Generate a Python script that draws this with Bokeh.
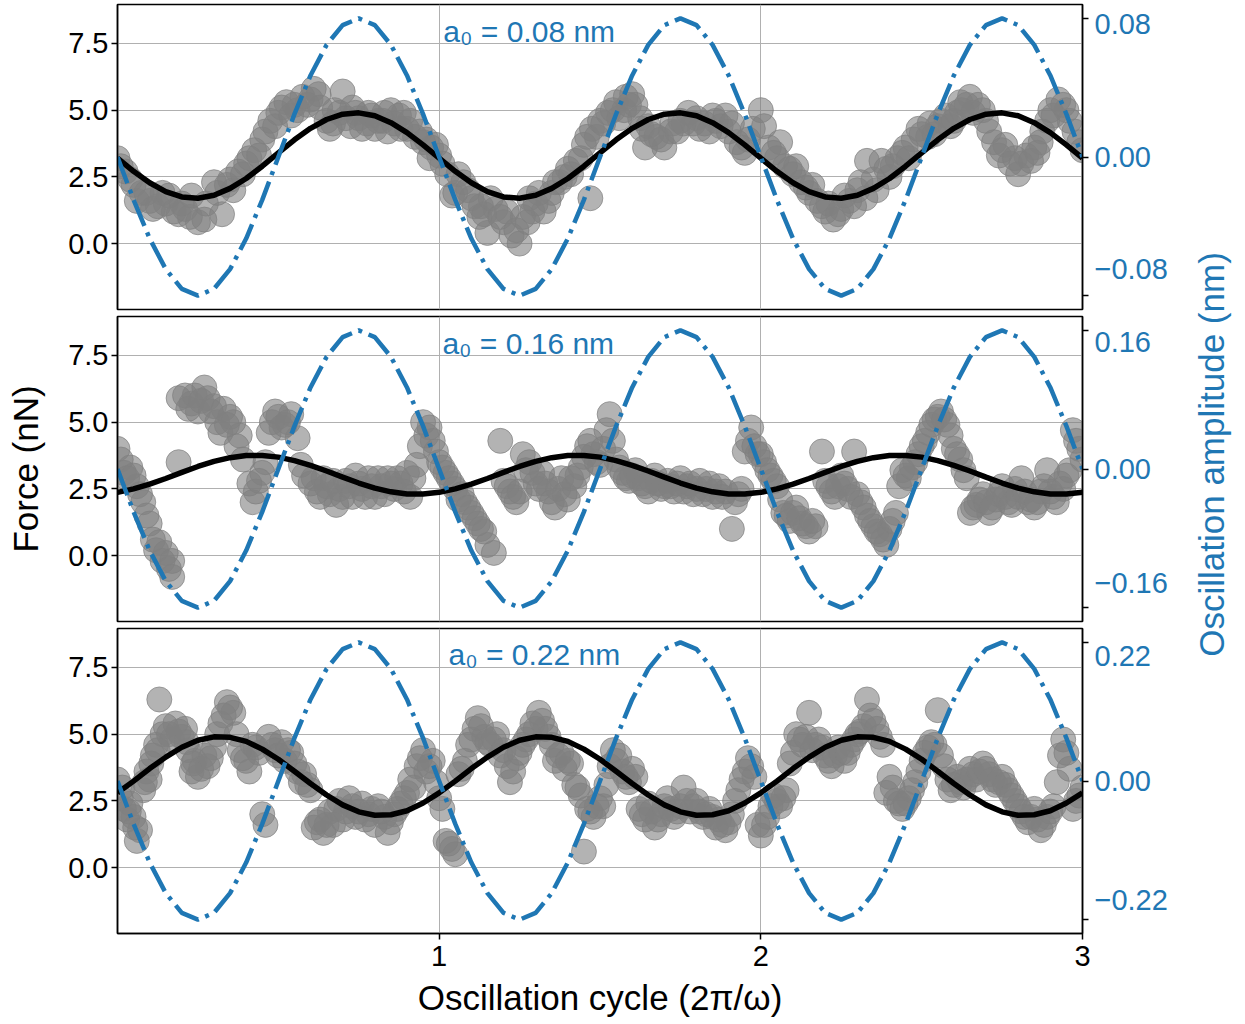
import math
from bokeh.plotting import figure
from bokeh.layouts import column, row
from bokeh.models import Range1d, LinearAxis, FixedTicker, PrintfTickFormatter, Grid
from bokeh.core.properties import value
from bokeh.embed import file_html
from bokeh.resources import INLINE

FONT = "Liberation Sans"
BLUE = "#1f77b4"

# ---------------- data ----------------
cycle = [0.00, 0.05, 0.10, 0.15, 0.20, 0.25, 0.30, 0.35, 0.40, 0.45,
         0.50, 0.55, 0.60, 0.65, 0.70, 0.75, 0.80, 0.85, 0.90, 0.95,
         1.00, 1.05, 1.10, 1.15, 1.20, 1.25, 1.30, 1.35, 1.40, 1.45,
         1.50, 1.55, 1.60, 1.65, 1.70, 1.75, 1.80, 1.85, 1.90, 1.95,
         2.00, 2.05, 2.10, 2.15, 2.20, 2.25, 2.30, 2.35, 2.40, 2.45,
         2.50, 2.55, 2.60, 2.65, 2.70, 2.75, 2.80, 2.85, 2.90, 2.95, 3.00]

# drive waveform, in units of a0
drive_shape = [0.000, -0.309, -0.588, -0.809, -0.951, -1.000, -0.951, -0.809, -0.588, -0.309,
               0.000, 0.309, 0.588, 0.809, 0.951, 1.000, 0.951, 0.809, 0.588, 0.309,
               0.000, -0.309, -0.588, -0.809, -0.951, -1.000, -0.951, -0.809, -0.588, -0.309,
               0.000, 0.309, 0.588, 0.809, 0.951, 1.000, 0.951, 0.809, 0.588, 0.309,
               0.000, -0.309, -0.588, -0.809, -0.951, -1.000, -0.951, -0.809, -0.588, -0.309,
               0.000, 0.309, 0.588, 0.809, 0.951, 1.000, 0.951, 0.809, 0.588, 0.309, 0.000]

a0_values = [0.08, 0.16, 0.22]
a0_texts = ["a\u2080 = 0.08 nm", "a\u2080 = 0.16 nm", "a\u2080 = 0.22 nm"]
amp_tick_texts = [("0.08", "\u22120.08"), ("0.16", "\u22120.16"), ("0.22", "\u22120.22")]

fit_1 = [3.20, 2.71, 2.28, 1.95, 1.75, 1.70, 1.81, 2.07, 2.44, 2.90,
         3.40, 3.89, 4.32, 4.65, 4.85, 4.90, 4.79, 4.53, 4.16, 3.70,
         3.20, 2.71, 2.28, 1.95, 1.75, 1.70, 1.81, 2.07, 2.44, 2.90,
         3.40, 3.89, 4.32, 4.65, 4.85, 4.90, 4.79, 4.53, 4.16, 3.70,
         3.20, 2.71, 2.28, 1.95, 1.75, 1.70, 1.81, 2.07, 2.44, 2.90,
         3.40, 3.89, 4.32, 4.65, 4.85, 4.90, 4.79, 4.53, 4.16, 3.70, 3.20]
fit_2 = [2.37, 2.50, 2.68, 2.89, 3.12, 3.34, 3.53, 3.67, 3.75, 3.75,
         3.69, 3.56, 3.38, 3.17, 2.94, 2.72, 2.53, 2.39, 2.31, 2.31,
         2.37, 2.50, 2.68, 2.89, 3.12, 3.34, 3.53, 3.67, 3.75, 3.75,
         3.69, 3.56, 3.38, 3.17, 2.94, 2.72, 2.53, 2.39, 2.31, 2.31,
         2.37, 2.50, 2.68, 2.89, 3.12, 3.34, 3.53, 3.67, 3.75, 3.75,
         3.69, 3.56, 3.38, 3.17, 2.94, 2.72, 2.53, 2.39, 2.31, 2.31, 2.37]
fit_3 = [2.80, 3.24, 3.71, 4.14, 4.51, 4.77, 4.90, 4.88, 4.73, 4.44,
         4.06, 3.61, 3.15, 2.72, 2.35, 2.09, 1.96, 1.98, 2.13, 2.42,
         2.80, 3.24, 3.71, 4.14, 4.51, 4.77, 4.90, 4.88, 4.73, 4.44,
         4.06, 3.61, 3.15, 2.72, 2.35, 2.09, 1.96, 1.98, 2.13, 2.42,
         2.80, 3.24, 3.71, 4.14, 4.51, 4.77, 4.90, 4.88, 4.73, 4.44,
         4.06, 3.61, 3.15, 2.72, 2.35, 2.09, 1.96, 1.98, 2.13, 2.42, 2.80]

# measured force samples (nN), panel 1
t_1 = [0.000, 0.025, 0.050, 0.060, 0.075, 0.100, 0.125, 0.140, 0.150, 0.175, 0.190, 0.200, 0.225, 0.250,
       0.270, 0.275, 0.300, 0.325, 0.350, 0.360, 0.375, 0.400, 0.425, 0.450, 0.460, 0.475, 0.500, 0.525,
       0.550, 0.560, 0.575, 0.600, 0.610, 0.625, 0.650, 0.660, 0.675, 0.690, 0.700, 0.725, 0.740, 0.750,
       0.775, 0.790, 0.800, 0.825, 0.840, 0.850, 0.875, 0.890, 0.900, 0.925, 0.950, 0.970, 0.975, 1.000,
       1.025, 1.040, 1.050, 1.075, 1.100, 1.125, 1.130, 1.150, 1.175, 1.200, 1.210, 1.225, 1.250, 1.275,
       1.290, 1.300, 1.325, 1.350, 1.375, 1.400, 1.425, 1.440, 1.450, 1.470, 1.475, 1.500, 1.525, 1.550,
       1.575, 1.580, 1.600, 1.625, 1.640, 1.650, 1.675, 1.700, 1.720, 1.725, 1.750, 1.775, 1.800, 1.810,
       1.825, 1.850, 1.875, 1.890, 1.900, 1.925, 1.950, 1.975, 2.000, 2.025, 2.050, 2.060, 2.075, 2.100,
       2.125, 2.150, 2.175, 2.200, 2.210, 2.225, 2.250, 2.275, 2.300, 2.325, 2.330, 2.350, 2.375, 2.400,
       2.425, 2.450, 2.475, 2.500, 2.520, 2.525, 2.550, 2.575, 2.600, 2.620, 2.625, 2.650, 2.675, 2.700,
       2.725, 2.750, 2.760, 2.775, 2.800, 2.825, 2.850, 2.870, 2.875, 2.900, 2.925, 2.950, 2.960, 2.975,
       3.000,
       0.01, 0.04, 0.09, 0.11, 0.16, 0.21, 0.23, 0.31, 0.34, 0.39, 0.41, 0.44, 0.49, 0.51, 0.54, 0.59,
       0.63, 0.67, 0.71, 0.73, 0.76, 0.78, 0.81, 0.83, 0.86, 0.88, 0.91, 0.94, 0.96, 0.99, 1.01, 1.06,
       1.09, 1.11, 1.14, 1.16, 1.19, 1.24, 1.26, 1.28, 1.31, 1.34, 1.36, 1.39, 1.41, 1.46, 1.49, 1.51,
       1.54, 1.56, 1.59, 1.61, 1.63, 1.66, 1.69, 1.74, 1.76, 1.79, 1.84, 1.86, 1.91, 1.94, 1.96, 2.01,
       2.04, 2.09, 2.11, 2.14, 2.16, 2.19, 2.24, 2.26, 2.29, 2.31, 2.36, 2.39, 2.41, 2.44, 2.46, 2.49,
       2.54, 2.56, 2.59, 2.61, 2.64, 2.66, 2.69, 2.71, 2.74, 2.79, 2.81, 2.84, 2.86, 2.89, 2.91, 2.94,
       2.99]
f_1 = [3.2, 2.7, 2.2, 1.6, 1.9, 1.6, 1.4, 1.9, 1.5, 1.2, 1.1, 1.5, 1.0, 0.8,
       0.9, 1.5, 2.3, 1.1, 2.4, 2.0, 2.7, 3.0, 3.5, 3.9, 4.2, 4.6, 4.9, 5.3,
       5.2, 5.0, 5.5, 5.4, 5.8, 5.6, 4.6, 4.3, 5.0, 4.9, 5.7, 4.4, 4.9, 4.7,
       4.5, 4.8, 4.3, 4.6, 4.2, 5.0, 4.8, 4.9, 4.3, 4.0, 3.8, 3.2, 3.6, 3.3,
       2.6, 1.8, 1.9, 2.3, 1.7, 1.0, 1.4, 0.4, 1.3, 0.8, 1.2, 0.3, 0.0, 0.8,
       1.2, 1.5, 1.2, 1.9, 2.3, 2.8, 3.1, 3.2, 3.7, 1.7, 4.3, 4.6, 4.9, 5.3,
       5.0, 5.5, 5.6, 4.7, 3.6, 4.4, 4.0, 3.6, 4.2, 4.5, 4.6, 4.9, 4.7, 4.3,
       4.5, 4.8, 4.4, 4.8, 4.2, 3.8, 3.4, 4.3, 5.0, 3.6, 3.2, 3.8, 2.9, 2.6,
       2.3, 1.9, 1.6, 1.2, 1.5, 0.9, 1.3, 1.6, 2.0, 1.7, 3.1, 2.4, 3.1, 2.5,
       3.2, 3.6, 3.9, 4.1, 4.0, 4.5, 4.4, 4.8, 4.6, 5.3, 5.0, 5.5, 5.2, 4.6,
       3.8, 3.5, 3.7, 3.0, 2.6, 3.3, 3.6, 3.8, 4.2, 5.0, 5.4, 5.0, 4.6, 4.2,
       3.5,
       2.9, 2.4, 1.9, 1.3, 1.8, 1.3, 1.8, 1.9, 2.2, 2.6, 3.2, 3.3, 4.4, 5.1, 4.8, 5.2,
       5.1, 4.5, 4.7, 5.1, 4.3, 4.9, 4.6, 4.9, 4.5, 4.3, 4.6, 4.2, 3.9, 3.7, 3.0, 2.6,
       2.0, 1.4, 1.1, 1.7, 1.0, 0.5, 1.0, 1.7, 1.9, 1.6, 2.3, 2.5, 2.6, 4.0, 4.0, 4.5,
       5.0, 4.7, 5.2, 5.2, 4.3, 4.1, 3.9, 4.2, 4.5, 4.5, 4.2, 4.6, 4.5, 3.6, 3.9, 4.4,
       3.4, 2.8, 2.9, 2.1, 2.2, 1.4, 1.1, 1.8, 1.4, 2.3, 2.0, 2.8, 2.9, 3.4, 3.2, 4.3,
       4.1, 4.6, 4.4, 4.9, 5.2, 4.9, 5.0, 4.2, 3.3, 3.2, 3.0, 3.1, 3.4, 4.6, 4.8, 5.2,
       3.8]

# panel 2
t_2 = [0.00, 0.02, 0.04, 0.06, 0.08, 0.09, 0.10, 0.11, 0.12, 0.13, 0.14, 0.15, 0.16, 0.17, 0.17, 0.19,
       0.19, 0.21, 0.23, 0.25, 0.27, 0.28, 0.30, 0.31, 0.32, 0.33, 0.35, 0.36, 0.37, 0.39, 0.41, 0.42,
       0.43, 0.45, 0.46, 0.48, 0.50, 0.52, 0.54, 0.56, 0.58, 0.60, 0.62, 0.64, 0.66, 0.68, 0.70, 0.72,
       0.74, 0.76, 0.78, 0.80, 0.82, 0.84, 0.86, 0.88, 0.90, 0.91, 0.93, 0.94, 0.95, 0.96, 0.98, 1.00,
       1.02, 1.04, 1.06, 1.08, 1.10, 1.12, 1.14, 1.15, 1.17, 1.19, 1.20, 1.22, 1.24, 1.26, 1.28, 1.30,
       1.32, 1.34, 1.36, 1.38, 1.40, 1.42, 1.44, 1.46, 1.48, 1.50, 1.52, 1.53, 1.55, 1.57, 1.59, 1.61,
       1.63, 1.65, 1.67, 1.69, 1.71, 1.73, 1.75, 1.77, 1.79, 1.81, 1.83, 1.85, 1.87, 1.89, 1.91, 1.92,
       1.94, 1.96, 1.97, 1.99, 2.01, 2.03, 2.05, 2.07, 2.09, 2.11, 2.13, 2.15, 2.17, 2.19, 2.21, 2.23,
       2.25, 2.27, 2.29, 2.31, 2.33, 2.35, 2.37, 2.39, 2.40, 2.42, 2.44, 2.46, 2.48, 2.50, 2.52, 2.54,
       2.56, 2.58, 2.60, 2.62, 2.64, 2.65, 2.67, 2.69, 2.71, 2.73, 2.75, 2.77, 2.79, 2.81, 2.83, 2.85,
       2.87, 2.89, 2.91, 2.93, 2.95, 2.97, 2.99, 3.00,
       0.01, 0.03, 0.05, 0.07, 0.22, 0.24, 0.26, 0.29, 0.34, 0.38, 0.44, 0.47, 0.49, 0.51, 0.53, 0.57,
       0.61, 0.63, 0.65, 0.67, 0.69, 0.71, 0.73, 0.75, 0.77, 0.79, 0.81, 0.83, 0.85, 0.87, 0.89, 0.92,
       0.97, 0.99, 1.01, 1.03, 1.05, 1.07, 1.09, 1.11, 1.13, 1.21, 1.23, 1.25, 1.27, 1.29, 1.31, 1.33,
       1.35, 1.37, 1.39, 1.41, 1.43, 1.45, 1.47, 1.49, 1.51, 1.54, 1.56, 1.58, 1.60, 1.62, 1.64, 1.66,
       1.68, 1.70, 1.72, 1.74, 1.76, 1.78, 1.80, 1.82, 1.84, 1.86, 1.88, 1.93, 1.95, 1.98, 2.00, 2.02,
       2.04, 2.06, 2.08, 2.10, 2.12, 2.14, 2.16, 2.20, 2.22, 2.24, 2.26, 2.28, 2.30, 2.32, 2.34, 2.36,
       2.38, 2.41, 2.43, 2.45, 2.47, 2.49, 2.51, 2.53, 2.55, 2.57, 2.59, 2.61, 2.63, 2.66, 2.68, 2.70,
       2.72, 2.74, 2.76, 2.78, 2.80, 2.82, 2.84, 2.86, 2.88, 2.90, 2.92, 2.94, 2.96, 2.98]
f_2 = [4.0, 3.1, 3.3, 2.6, 2.0, 1.5, 1.2, 0.6, 0.2, 0.5, -0.2, 0.1, -0.5, -0.2, -0.8, 3.5,
       5.9, 6.0, 5.7, 5.4, 6.3, 5.9, 5.6, 5.0, 4.6, 5.5, 5.2, 5.0, 4.1, 3.6, 2.7, 2.0,
       2.4, 3.1, 3.5, 5.0, 5.2, 4.9, 5.3, 4.4, 3.0, 2.7, 2.4, 2.9, 2.3, 1.9, 2.2, 2.6,
       3.0, 2.5, 2.9, 2.2, 2.6, 2.9, 2.5, 2.7, 3.1, 2.2, 3.4, 4.1, 5.0, 4.5, 4.3, 3.5,
       3.1, 2.7, 2.1, 2.0, 1.6, 1.2, 0.9, 0.4, 0.1, 4.3, 2.8, 2.4, 2.0, 3.8, 3.5, 2.7,
       3.1, 2.4, 1.8, 2.9, 2.1, 2.6, 3.3, 4.1, 3.8, 3.4, 4.7, 5.3, 3.6, 3.1, 2.8, 3.2,
       2.7, 2.4, 3.0, 2.5, 2.8, 2.4, 2.9, 2.6, 2.3, 2.8, 2.5, 2.2, 2.6, 2.4, 1.0, 2.0,
       2.5, 4.3, 4.8, 3.8, 3.5, 3.0, 2.6, 1.6, 1.3, 1.8, 1.2, 0.9, 1.1, 3.9, 2.6, 2.2,
       3.0, 2.5, 3.9, 2.0, 1.5, 1.1, 0.8, 0.4, 1.0, 1.6, 3.2, 2.9, 3.5, 4.1, 4.6, 5.1,
       5.4, 4.9, 4.0, 3.6, 2.9, 1.6, 1.9, 2.3, 1.6, 2.1, 2.6, 2.0, 2.5, 2.9, 2.0, 1.8,
       2.4, 3.2, 2.2, 2.7, 3.0, 4.7, 4.0, 3.6,
       3.6, 2.9, 3.0, 2.3, 5.5, 6.0, 5.8, 5.4, 4.9, 4.5, 2.8, 4.6, 5.4, 4.8, 5.0, 3.4,
       2.9, 2.2, 2.6, 2.8, 2.5, 2.8, 2.2, 2.7, 2.2, 2.6, 2.9, 2.3, 2.7, 2.9, 2.4, 2.9,
       4.8, 3.9, 3.3, 2.9, 2.5, 2.3, 1.8, 1.4, 1.0, 2.6, 2.2, 2.4, 3.2, 3.1, 2.5, 2.7,
       2.0, 2.5, 2.3, 2.9, 3.0, 3.7, 4.3, 3.5, 4.0, 4.3, 3.3, 2.9, 3.0, 2.9, 2.6, 2.8,
       2.7, 2.6, 2.6, 2.7, 2.4, 2.7, 2.5, 2.3, 2.7, 2.4, 2.2, 2.3, 3.9, 4.1, 3.8, 3.2,
       2.8, 2.1, 1.5, 1.6, 1.4, 1.1, 1.3, 2.8, 2.4, 2.6, 2.7, 2.2, 2.3, 1.8, 1.3, 0.9,
       0.6, 1.3, 2.6, 3.0, 3.3, 3.8, 4.3, 4.9, 5.2, 5.1, 4.5, 3.8, 3.2, 1.8, 2.1, 2.0,
       1.8, 2.3, 2.2, 1.9, 2.2, 2.4, 2.1, 2.0, 2.6, 2.4, 2.0, 2.5, 3.2, 4.3]

# panel 3
t_3 = [0.00, 0.01, 0.02, 0.03, 0.04, 0.05, 0.06, 0.07, 0.08, 0.09, 0.10, 0.11, 0.12, 0.13, 0.14, 0.15,
       0.17, 0.18, 0.20, 0.21, 0.22, 0.23, 0.24, 0.25, 0.27, 0.28, 0.30, 0.31, 0.32, 0.34, 0.35, 0.36,
       0.38, 0.39, 0.41, 0.42, 0.44, 0.45, 0.46, 0.47, 0.49, 0.51, 0.52, 0.54, 0.56, 0.57, 0.58, 0.60,
       0.61, 0.63, 0.64, 0.66, 0.67, 0.69, 0.71, 0.72, 0.74, 0.76, 0.78, 0.80, 0.81, 0.83, 0.84, 0.86,
       0.88, 0.90, 0.91, 0.93, 0.95, 0.96, 0.98, 0.99, 1.00, 1.01, 1.03, 1.04, 1.05, 1.06, 1.08, 1.09,
       1.11, 1.12, 1.14, 1.16, 1.18, 1.19, 1.21, 1.22, 1.24, 1.26, 1.28, 1.29, 1.31, 1.33, 1.35, 1.36,
       1.38, 1.39, 1.41, 1.42, 1.44, 1.45, 1.46, 1.48, 1.50, 1.51, 1.52, 1.54, 1.55, 1.57, 1.59, 1.60,
       1.62, 1.64, 1.65, 1.67, 1.69, 1.71, 1.73, 1.75, 1.76, 1.78, 1.80, 1.82, 1.84, 1.86, 1.87, 1.89,
       1.91, 1.93, 1.95, 1.96, 1.98, 1.99, 2.00, 2.02, 2.04, 2.06, 2.08, 2.10, 2.11, 2.13, 2.15, 2.16,
       2.18, 2.20, 2.22, 2.24, 2.26, 2.28, 2.30, 2.32, 2.33, 2.35, 2.37, 2.39, 2.40, 2.42, 2.44, 2.46,
       2.48, 2.50, 2.52, 2.53, 2.55, 2.57, 2.59, 2.61, 2.63, 2.65, 2.67, 2.69, 2.71, 2.73, 2.75, 2.77,
       2.79, 2.81, 2.83, 2.85, 2.87, 2.89, 2.91, 2.93, 2.94, 2.96, 2.97, 2.99, 3.00,
       0.015, 0.035, 0.055, 0.085, 0.105, 0.125, 0.16, 0.19, 0.215, 0.235, 0.26, 0.29, 0.33, 0.37, 0.40, 0.43,
       0.48, 0.50, 0.53, 0.55, 0.59, 0.62, 0.65, 0.68, 0.70, 0.73, 0.75, 0.77, 0.79, 0.82, 0.85, 0.87,
       0.89, 0.92, 0.94, 0.97, 1.02, 1.07, 1.10, 1.13, 1.15, 1.17, 1.20, 1.23, 1.25, 1.27, 1.30, 1.32,
       1.34, 1.37, 1.40, 1.43, 1.47, 1.49, 1.53, 1.56, 1.58, 1.61, 1.63, 1.66, 1.68, 1.70, 1.72, 1.74,
       1.77, 1.79, 1.81, 1.83, 1.85, 1.88, 1.90, 1.92, 1.94, 1.97, 2.01, 2.03, 2.05, 2.07, 2.09, 2.12,
       2.14, 2.17, 2.19, 2.21, 2.23, 2.25, 2.27, 2.29, 2.31, 2.34, 2.36, 2.38, 2.41, 2.43, 2.45, 2.47,
       2.49, 2.51, 2.54, 2.56, 2.58, 2.60, 2.62, 2.64, 2.66, 2.68, 2.70, 2.72, 2.74, 2.76, 2.78, 2.80,
       2.82, 2.84, 2.86, 2.88, 2.90, 2.92, 2.95, 2.98]
f_3 = [3.3, 2.6, 2.2, 1.8, 2.4, 1.9, 1.0, 1.4, 2.9, 3.6, 3.3, 4.2, 4.6, 6.3, 5.0, 5.3,
       4.8, 5.4, 4.9, 5.2, 4.4, 3.6, 4.0, 3.4, 4.2, 3.8, 4.5, 5.0, 5.4, 6.2, 6.0, 5.8,
       4.4, 4.1, 3.6, 4.6, 4.3, 2.0, 1.6, 4.9, 4.4, 4.7, 4.0, 4.3, 3.6, 3.2, 3.5, 2.9,
       1.5, 1.8, 1.3, 2.1, 1.6, 2.5, 2.1, 2.6, 1.9, 2.4, 2.0, 1.6, 2.3, 1.9, 1.3, 2.0,
       2.4, 2.8, 3.3, 3.8, 4.4, 3.6, 4.0, 3.2, 2.6, 2.2, 0.9, 0.7, 0.5, 3.5, 4.0, 4.6,
       5.2, 5.6, 4.9, 4.6, 5.0, 4.2, 3.8, 3.2, 4.1, 4.6, 5.0, 5.4, 5.8, 5.2, 4.6, 4.0,
       4.3, 3.7, 3.9, 3.1, 2.7, 0.6, 2.2, 1.9, 2.6, 2.3, 3.1, 4.4, 4.0, 3.6, 3.2, 3.7,
       2.2, 1.8, 2.4, 1.5, 2.0, 2.6, 1.9, 2.3, 3.0, 2.1, 2.5, 1.9, 2.2, 1.5, 1.8, 1.4,
       2.0, 2.9, 3.6, 4.1, 3.4, 1.6, 1.2, 1.9, 2.7, 2.3, 2.9, 4.3, 5.0, 4.6, 5.8, 4.4,
       4.8, 4.2, 3.8, 4.5, 4.0, 4.6, 5.0, 5.3, 6.3, 5.5, 4.9, 2.8, 3.4, 2.5, 2.2, 2.6,
       3.2, 4.0, 4.5, 4.7, 5.9, 3.8, 2.9, 3.4, 3.0, 3.7, 3.3, 3.9, 3.5, 3.1, 3.4, 2.9,
       2.5, 2.1, 1.7, 2.2, 1.4, 1.9, 2.3, 4.2, 4.8, 3.7, 2.2, 2.7, 3.0,
       3.0, 2.1, 1.5, 3.2, 3.9, 4.4, 5.0, 5.1, 4.7, 3.9, 3.7, 4.1, 5.7, 5.0, 4.0, 4.5,
       4.6, 4.2, 4.4, 3.9, 3.1, 1.7, 1.6, 2.2, 1.8, 2.3, 2.1, 1.8, 2.2, 2.1, 1.7, 2.2,
       2.6, 3.0, 4.1, 3.8, 1.0, 3.7, 4.8, 5.3, 4.7, 4.8, 4.4, 3.6, 4.3, 4.8, 5.2, 5.5,
       4.9, 4.2, 4.0, 3.0, 2.1, 2.3, 3.8, 4.2, 3.4, 3.4, 2.0, 2.1, 1.8, 2.3, 2.2, 2.1,
       2.5, 2.3, 2.1, 2.0, 1.9, 1.6, 1.7, 2.5, 3.3, 3.8, 1.6, 2.3, 2.5, 2.6, 3.9, 4.8,
       4.9, 4.6, 4.5, 4.0, 4.2, 4.3, 4.3, 4.8, 5.1, 5.7, 5.2, 4.6, 3.0, 2.4, 2.4, 2.9,
       3.6, 4.3, 4.6, 4.2, 3.3, 3.1, 3.2, 3.3, 3.5, 3.6, 3.7, 3.3, 3.2, 3.1, 2.7, 2.3,
       1.9, 1.9, 1.8, 1.6, 2.1, 3.2, 4.3, 2.5]

samples_t = [t_1, t_2, t_3]
samples_f = [f_1, f_2, f_3]
fits = [fit_1, fit_2, fit_3]

# ---------------- layout constants ----------------
FRAME_W, FRAME_H = 965, 305
LEFT_B, RIGHT_B, TOP_B = 117, 108, 4
BOTTOM_B = 89
Y_RANGE = (-2.47, 8.96)
label_pos = [(0.956, -0.81), (0.917, -0.824), (0.90, -0.855)]
ann_pos = [(1.013, 7.95), (1.010, 7.95), (1.029, 7.99)]


def style_axis(ax, color="black"):
    ax.axis_line_color = "black"
    ax.axis_line_width = 1.5
    ax.major_tick_line_color = "black"
    ax.major_tick_line_width = 1.5
    ax.major_tick_out = 6
    ax.major_tick_in = 0
    ax.minor_tick_line_color = None
    ax.major_label_text_font = FONT
    ax.major_label_text_font_size = "29px"
    ax.major_label_text_color = color
    ax.axis_label_text_font = FONT
    ax.axis_label_text_font_size = "35px"
    ax.axis_label_text_font_style = "normal"
    ax.axis_label_text_color = "black"


panels = []
for i in range(3):
    bottom = (i == 2)
    a0 = a0_values[i]
    p = figure(frame_width=FRAME_W, frame_height=FRAME_H,
               x_range=Range1d(0, 3), y_range=Range1d(*Y_RANGE),
               x_axis_location="below" if bottom else None,
               output_backend="svg", toolbar_location=None,
               min_border_left=LEFT_B, min_border_right=RIGHT_B,
               min_border_top=TOP_B, min_border_bottom=BOTTOM_B if bottom else 3,
               background_fill_color="white", border_fill_color="white")
    p.extra_y_ranges = {"amp": Range1d(-1.1 * a0, 1.1 * a0)}
    p.outline_line_color = "black"
    p.outline_line_width = 1.5
    p.outline_line_alpha = 1.0

    if len(p.xgrid) == 0:
        p.add_layout(Grid(dimension=0, ticker=FixedTicker(ticks=[1, 2, 3])), "center")
    p.xgrid.ticker = FixedTicker(ticks=[1, 2, 3])
    p.xgrid.grid_line_color = "#b0b0b0"
    p.xgrid.grid_line_width = 1
    p.ygrid.grid_line_color = "#b0b0b0"
    p.ygrid.grid_line_width = 1

    yl = p.yaxis[0]
    yl.ticker = FixedTicker(ticks=[0, 2.5, 5, 7.5])
    yl.formatter = PrintfTickFormatter(format="%.1f")
    style_axis(yl)
    yl.major_label_standoff = 3
    if i == 1:
        yl.axis_label = "Force (nN)"
        yl.axis_label_standoff = 20

    if bottom:
        xa = p.xaxis[0]
        xa.ticker = FixedTicker(ticks=[1, 2, 3])
        xa.formatter = PrintfTickFormatter(format="%d")
        style_axis(xa)
        xa.major_label_standoff = 6
        xa.axis_label = "Oscillation cycle (2\u03c0/\u03c9)"
        xa.axis_label_standoff = 9

    top_pos, bot_pos = label_pos[i][0] * a0, label_pos[i][1] * a0
    top_txt, bot_txt = amp_tick_texts[i]
    yr = LinearAxis(y_range_name="amp")
    yr.ticker = FixedTicker(ticks=[top_pos, 0.0, bot_pos], minor_ticks=[-a0, 0.0, a0])
    yr.major_label_overrides = {top_pos: top_txt, 0.0: "0.00", bot_pos: bot_txt}
    style_axis(yr, BLUE)
    yr.major_tick_line_color = None
    yr.minor_tick_line_color = "black"
    yr.minor_tick_line_width = 1.5
    yr.minor_tick_out = 6
    yr.minor_tick_in = 0
    yr.major_label_standoff = 6
    p.add_layout(yr, "right")

    p.scatter(samples_t[i], samples_f[i], size=25, marker="circle",
              fill_color="grey", fill_alpha=0.6, line_color="grey", line_alpha=0.7, line_width=1)
    p.line(cycle, fits[i], line_color="black", line_width=5.5)
    drive = [a0 * s for s in drive_shape]
    p.line(cycle, drive, y_range_name="amp", line_color=BLUE, line_width=4.5, line_dash="28 7 4 7")

    p.text(x=[ann_pos[i][0]], y=[ann_pos[i][1]], text=[a0_texts[i]],
           text_font=value(FONT), text_font_size=value("30px"), text_color=BLUE,
           text_align="left", text_baseline="middle")
    panels.append(p)

total_h = (TOP_B + FRAME_H + 3) * 2 + (TOP_B + FRAME_H + BOTTOM_B)
lab = figure(width=55, height=total_h, x_range=Range1d(0, 1), y_range=Range1d(0, 1),
             x_axis_location=None, y_axis_location=None, min_border=0,
             output_backend="svg", toolbar_location=None,
             background_fill_color="white", border_fill_color="white")
lab.outline_line_color = None
lab.grid.visible = False
lab.text(x=[0.38], y=[1 - 454 / total_h], text=["Oscillation amplitude (nm)"], angle=math.pi / 2,
         text_font=value(FONT), text_font_size=value("35px"), text_color=BLUE,
         text_align="center", text_baseline="middle")

layout = row(column(*panels), lab)
open("out.html", "w").write(file_html(layout, INLINE))
